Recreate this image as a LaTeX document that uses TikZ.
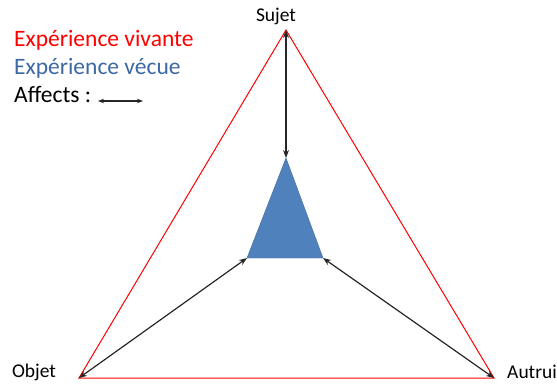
\documentclass[tikz,border=0pt]{standalone}
\usepackage{fontspec}
\setmainfont{Carlito}
\usetikzlibrary{arrows.meta}
\definecolor{vecue}{RGB}{79,129,189}
\definecolor{vecuetext}{RGB}{60,104,165}
\tikzset{
  outer/.style={draw=red, line width=1.0pt},
  inner/.style={fill=vecue, draw=vecue!80!black, line width=0.4pt},
  affect/.style={{Stealth[length=8pt,width=6pt]}-{Stealth[length=8pt,width=6pt]}, line width=1.2pt, black!85},
  vlabel/.style={font=\fontsize{19.5}{22}\selectfont, inner sep=0pt},
  legend/.style={font=\fontsize{23.5}{26}\selectfont, anchor=base west, inner sep=0pt}
}
\begin{document}
\begin{tikzpicture}[x=1pt,y=-1pt]
\useasboundingbox (0,0) rectangle (557,385);
% outer triangle vertices
\coordinate (S) at (286,30);
\coordinate (O) at (79,378);
\coordinate (A) at (494,378);
% inner triangle vertices
\coordinate (iS) at (286,158);
\coordinate (iO) at (247,258);
\coordinate (iA) at (323,258);
\draw[outer] (S) -- (O) -- (A) -- cycle;
\filldraw[inner] (iS) -- (iO) -- (iA) -- cycle;
\draw[affect] (S) -- (iS);
\draw[affect] (O) -- (iO);
\draw[affect] (A) -- (iA);
\node[vlabel] (ls) at (276,16) {Sujet};
\node[vlabel] (lo) at (34,372) {Objet};
\node[vlabel] (la) at (532,372) {Autrui};
\node[legend, text=red] (l1) at (14,47) {Expérience vivante};
\node[legend, text=vecuetext] (l2) at (14,75) {Expérience vécue};
\node[legend] (l3) at (14,103) {Affects :};
\coordinate (a1) at (98,101);
\coordinate (a2) at (143,101);
\draw[{Stealth[length=6pt,width=4.5pt]}-{Stealth[length=6pt,width=4.5pt]}, line width=1.1pt, black!85] (a1) -- (a2);
\end{tikzpicture}
\end{document}
